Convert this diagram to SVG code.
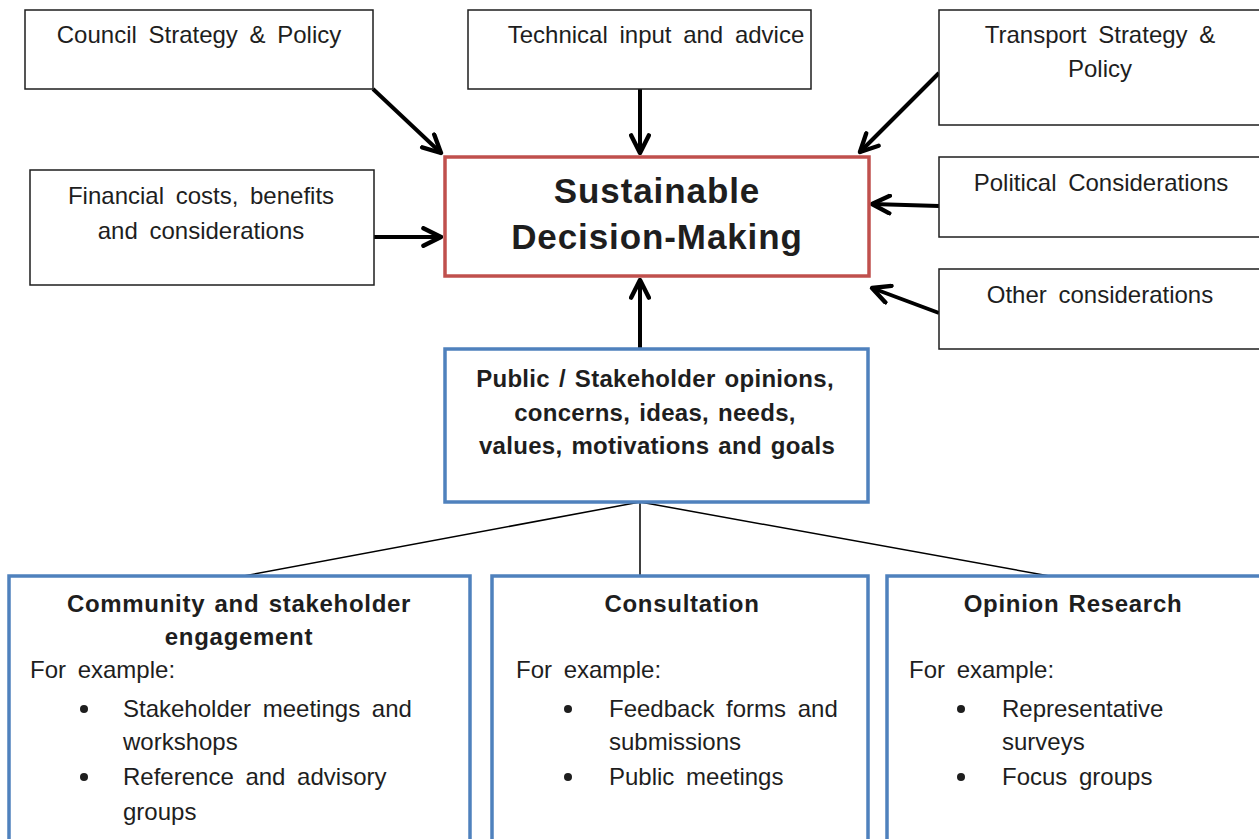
<svg xmlns="http://www.w3.org/2000/svg" width="1259" height="839" viewBox="0 0 1259 839">
<style>
text{font-family:"Liberation Sans",Arial,sans-serif;fill:#1e1e1e;}
.t{font-size:24px;word-spacing:5px;}
.c{text-anchor:middle;}
.b{font-weight:bold;word-spacing:2px;letter-spacing:0.3px;}
.h{letter-spacing:0.7px;}
.big{font-size:35px;font-weight:bold;letter-spacing:0.9px;}
.box{fill:#fff;stroke:#1e1e1e;stroke-width:1.5;}
.red{fill:#fff;stroke:#c0504d;stroke-width:3.5;}
.blue{fill:#fff;stroke:#4f81bd;stroke-width:3.5;}
.arr{stroke:#000;stroke-width:4;fill:none;marker-end:url(#ah);}
.ln{stroke:#000;stroke-width:1.5;fill:none;}
.dot{fill:#1e1e1e;}
</style>
<defs>
<marker id="ah" viewBox="0 0 10 10" refX="9" refY="5" markerWidth="5.5" markerHeight="5.5" orient="auto" markerUnits="strokeWidth">
<path d="M1,1 L9,5 L1,9" fill="none" stroke="#000" stroke-width="2" stroke-linecap="round" stroke-linejoin="round"/>
</marker>
</defs>
<rect width="1259" height="839" fill="#fff"/>
<g id="connectors">
<line class="arr" x1="373" y1="89" x2="441" y2="153"/>
<line class="arr" x1="640" y1="89" x2="640" y2="153"/>
<line class="arr" x1="939" y1="73" x2="860" y2="152"/>
<line class="arr" x1="374" y1="237" x2="441" y2="237"/>
<line class="arr" x1="939" y1="206" x2="872" y2="204"/>
<line class="arr" x1="939" y1="313" x2="872" y2="288"/>
<line class="arr" x1="640" y1="349" x2="640" y2="280"/>
<line class="ln" x1="640" y1="502" x2="238" y2="577"/>
<line class="ln" x1="640" y1="502" x2="640" y2="577"/>
<line class="ln" x1="640" y1="502" x2="1055" y2="577"/>
</g>
<g id="council"><rect class="box" x="25" y="10" width="348" height="79"/><text class="t c" x="199" y="43">Council Strategy &amp; Policy</text></g>
<g id="technical"><rect class="box" x="468" y="10" width="343" height="79"/><text class="t c" x="656" y="43">Technical input and advice</text></g>
<g id="transport"><rect class="box" x="939" y="10" width="330" height="115"/><text class="t c" x="1100" y="43">Transport Strategy &amp;</text><text class="t c" x="1100" y="77">Policy</text></g>
<g id="financial"><rect class="box" x="30" y="170" width="344" height="115"/><text class="t c" x="201" y="204">Financial costs, benefits</text><text class="t c" x="201" y="239">and considerations</text></g>
<g id="political"><rect class="box" x="939" y="157" width="330" height="80"/><text class="t c" x="1101" y="191">Political Considerations</text></g>
<g id="other"><rect class="box" x="939" y="269" width="330" height="80"/><text class="t c" x="1100" y="303">Other considerations</text></g>
<g id="sustainable"><rect class="red" x="445" y="157" width="424" height="119"/><text class="c big" x="657" y="203">Sustainable</text><text class="c big" x="657" y="249">Decision-Making</text></g>
<g id="public"><rect class="blue" x="445" y="349" width="423" height="153"/>
<text class="t c b" x="655" y="387">Public / Stakeholder opinions,</text>
<text class="t c b" x="655" y="421">concerns, ideas, needs,</text>
<text class="t c b" x="657" y="454">values, motivations and goals</text></g>
<g id="community"><rect class="blue" x="9" y="576" width="461" height="280"/>
<text class="t c b h" x="239" y="612">Community and stakeholder</text>
<text class="t c b h" x="239" y="645">engagement</text>
<text class="t" x="30" y="678">For example:</text>
<circle class="dot" cx="84" cy="709" r="4"/>
<text class="t" x="123" y="717">Stakeholder meetings and</text>
<text class="t" x="123" y="750">workshops</text>
<circle class="dot" cx="84" cy="777" r="4"/>
<text class="t" x="123" y="785">Reference and advisory</text>
<text class="t" x="123" y="820">groups</text></g>
<g id="consultation"><rect class="blue" x="492" y="576" width="376" height="280"/>
<text class="t c b h" x="682" y="612">Consultation</text>
<text class="t" x="516" y="678">For example:</text>
<circle class="dot" cx="568" cy="709" r="4"/>
<text class="t" x="609" y="717">Feedback forms and</text>
<text class="t" x="609" y="750">submissions</text>
<circle class="dot" cx="568" cy="777" r="4"/>
<text class="t" x="609" y="785">Public meetings</text></g>
<g id="opinion"><rect class="blue" x="887" y="576" width="382" height="280"/>
<text class="t c b h" x="1073" y="612">Opinion Research</text>
<text class="t" x="909" y="678">For example:</text>
<circle class="dot" cx="961" cy="709" r="4"/>
<text class="t" x="1002" y="717">Representative</text>
<text class="t" x="1002" y="750">surveys</text>
<circle class="dot" cx="961" cy="777" r="4"/>
<text class="t" x="1002" y="785">Focus groups</text></g>
</svg>
